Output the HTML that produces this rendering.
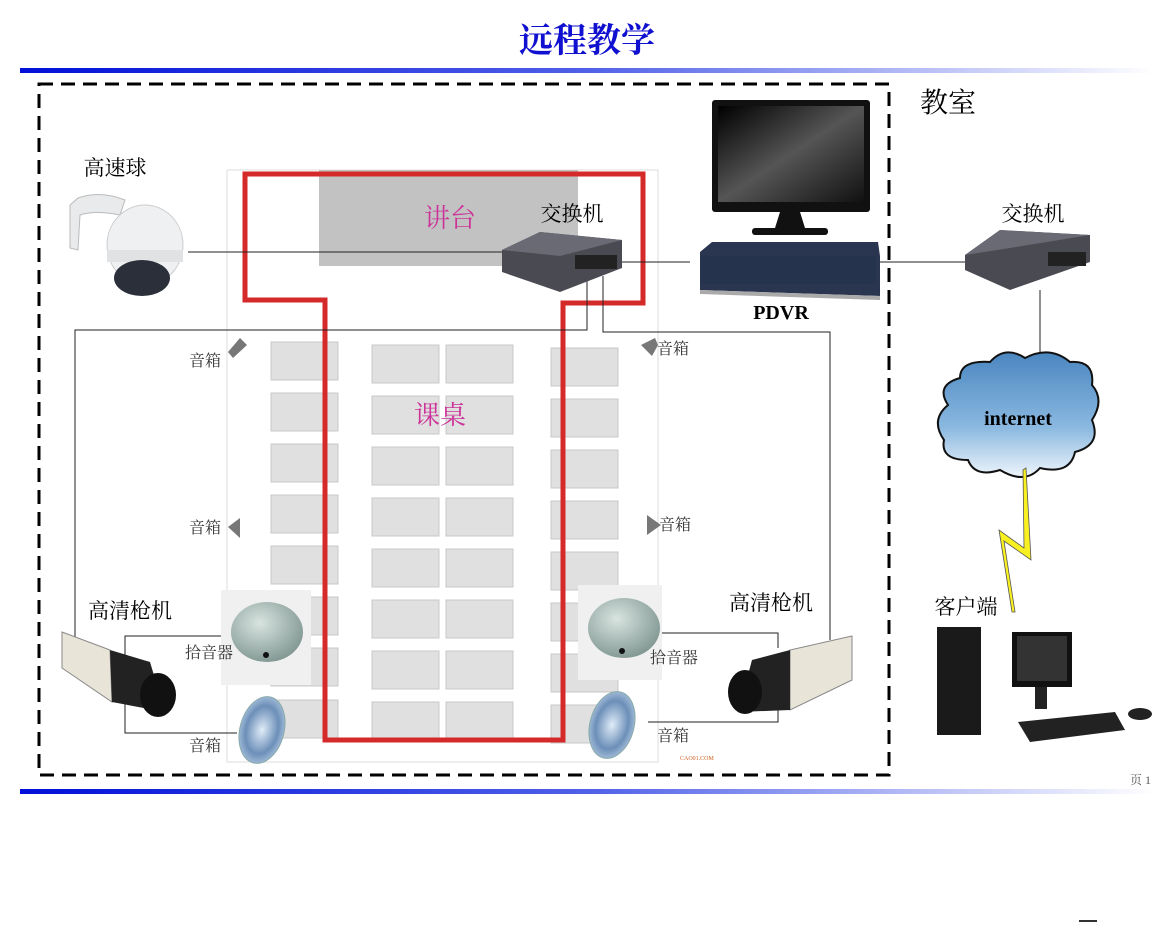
<!DOCTYPE html>
<html><head><meta charset="utf-8"><style>
body{margin:0;background:#fff;}
svg{display:block}
text{font-family:"Liberation Serif","Noto Serif CJK SC",serif;}
</style></head><body>
<svg width="1174" height="926" viewBox="0 0 1174 926" xmlns="http://www.w3.org/2000/svg">
<defs>
<linearGradient id="bar" x1="0" x2="1"><stop offset="0" stop-color="#0010d8"/><stop offset="0.5" stop-color="#5060e8"/><stop offset="1" stop-color="#ffffff"/></linearGradient>
<linearGradient id="cloud" x1="0" y1="0" x2="0" y2="1"><stop offset="0" stop-color="#4a86c0"/><stop offset="0.6" stop-color="#8ab8e0"/><stop offset="1" stop-color="#eef5fb"/></linearGradient>
<linearGradient id="scr" x1="0" y1="0" x2="1" y2="1"><stop offset="0" stop-color="#000"/><stop offset="0.5" stop-color="#555"/><stop offset="1" stop-color="#111"/></linearGradient>
<radialGradient id="dome" cx="0.4" cy="0.35" r="0.7"><stop offset="0" stop-color="#d8e4e0"/><stop offset="1" stop-color="#7f9590"/></radialGradient>
<radialGradient id="spk" cx="0.5" cy="0.5" r="0.6"><stop offset="0" stop-color="#e0ecf8"/><stop offset="0.6" stop-color="#6c8fb8"/><stop offset="1" stop-color="#c0d4ea"/></radialGradient>
</defs>
<text x="587" y="52" font-size="34" fill="#1010d0" text-anchor="middle" font-weight="bold">远程教学</text>
<rect x="20" y="68" width="1135" height="5" fill="url(#bar)"/>
<rect x="20" y="789" width="1135" height="5" fill="url(#bar)"/>
<rect x="39" y="84" width="850" height="691" fill="none" stroke="#000" stroke-width="3" stroke-dasharray="14 8"/>
<text x="948" y="112" font-size="28" text-anchor="middle">教室</text>
<rect x="227" y="170" width="431" height="592" fill="#fff" stroke="#ddd"/>
<rect x="319" y="170" width="259" height="96" fill="#c2c2c2"/>
<g fill="#e0e0e0" stroke="#c8c8c8">
<rect x="271" y="342" width="67" height="38"/><rect x="271" y="393" width="67" height="38"/><rect x="271" y="444" width="67" height="38"/><rect x="271" y="495" width="67" height="38"/><rect x="271" y="546" width="67" height="38"/><rect x="271" y="597" width="67" height="38"/><rect x="271" y="648" width="67" height="38"/><rect x="271" y="700" width="67" height="38"/>
<rect x="372" y="345" width="67" height="38"/><rect x="372" y="396" width="67" height="38"/><rect x="372" y="447" width="67" height="38"/><rect x="372" y="498" width="67" height="38"/><rect x="372" y="549" width="67" height="38"/><rect x="372" y="600" width="67" height="38"/><rect x="372" y="651" width="67" height="38"/><rect x="372" y="702" width="67" height="38"/>
<rect x="446" y="345" width="67" height="38"/><rect x="446" y="396" width="67" height="38"/><rect x="446" y="447" width="67" height="38"/><rect x="446" y="498" width="67" height="38"/><rect x="446" y="549" width="67" height="38"/><rect x="446" y="600" width="67" height="38"/><rect x="446" y="651" width="67" height="38"/><rect x="446" y="702" width="67" height="38"/>
<rect x="551" y="348" width="67" height="38"/><rect x="551" y="399" width="67" height="38"/><rect x="551" y="450" width="67" height="38"/><rect x="551" y="501" width="67" height="38"/><rect x="551" y="552" width="67" height="38"/><rect x="551" y="603" width="67" height="38"/><rect x="551" y="654" width="67" height="38"/><rect x="551" y="705" width="67" height="38"/>
</g>
<path d="M245 174 H643 V303 H563 V740 H325 V300 H245 Z" fill="none" stroke="#d42a2a" stroke-width="5"/>
<text x="450" y="227" font-size="26" fill="#cc3399" text-anchor="middle">讲台</text>
<text x="440" y="424" font-size="26" fill="#cc3399" text-anchor="middle">课桌</text>
<g stroke="#222" stroke-width="1" fill="none">
<path d="M188 252 H502"/><path d="M622 262 H690"/><path d="M880 262 H965"/><path d="M1040 290 V362"/>
<path d="M587 276 V330 H75 V637"/><path d="M603 276 V332 H830 V640"/>
<path d="M230 636 H125 V733 H237"/>
<path d="M660 633 H778 V648"/><path d="M648 722 H778 V705"/>
</g>
<path d="M70 205 L78 198 Q100 190 125 200 L120 215 Q95 210 80 215 L78 250 L70 248 Z" fill="#e8eaec" stroke="#bbb"/>
<ellipse cx="145" cy="245" rx="38" ry="40" fill="#eef0f2" stroke="#ccc"/>
<rect x="107" y="250" width="76" height="12" fill="#e0e2e4"/>
<ellipse cx="142" cy="278" rx="28" ry="18" fill="#2a2f3a"/>
<text x="115" y="175" font-size="21" text-anchor="middle">高速球</text>
<path d="M502 250 L540 232 L622 240 L622 268 L560 292 L502 272 Z" fill="#4a4a52"/>
<path d="M502 250 L540 232 L622 240 L560 256 Z" fill="#6a6a74"/>
<rect x="575" y="255" width="42" height="14" fill="#222"/>
<text x="572" y="221" font-size="21" text-anchor="middle">交换机</text>
<rect x="712" y="100" width="158" height="112" rx="3" fill="#111"/>
<rect x="718" y="106" width="146" height="96" fill="url(#scr)"/>
<path d="M780 212 L800 212 L805 228 L775 228 Z" fill="#111"/>
<rect x="752" y="228" width="76" height="7" rx="3" fill="#111"/>
<path d="M700 252 L712 242 L878 242 L880 256 L880 296 L700 290 Z" fill="#2a3550"/>
<rect x="700" y="256" width="176" height="28" fill="#26334d"/>
<path d="M700 290 L880 296 L880 300 L700 294 Z" fill="#aaa"/>
<text x="781" y="319" font-size="20" font-weight="bold" text-anchor="middle">PDVR</text>
<path d="M965 255 L1000 230 L1090 235 L1090 262 L1010 290 L965 270 Z" fill="#4a4a52"/>
<path d="M965 255 L1000 230 L1090 235 L1010 248 Z" fill="#6a6a74"/>
<rect x="1048" y="252" width="38" height="14" fill="#222"/>
<text x="1033" y="221" font-size="21" text-anchor="middle">交换机</text>
<path d="M948 405 Q935 385 960 378 Q960 360 990 362 Q1005 345 1025 358 Q1050 345 1070 362 Q1095 360 1092 385 Q1105 400 1092 420 Q1102 445 1075 452 Q1070 475 1040 468 Q1025 485 1000 470 Q975 478 968 460 Q940 460 944 440 Q930 420 948 405 Z" fill="url(#cloud)" stroke="#111" stroke-width="2"/>
<text x="1018" y="425" font-size="20" font-weight="bold" text-anchor="middle">internet</text>
<path d="M1026 468 L1031 560 L1004 541 L1015 612 L1012 612 L999 530 L1024 548 L1023 470 Z" fill="#f8f020" stroke="#555" stroke-width="0.8"/>
<text x="966" y="614" font-size="21" text-anchor="middle">客户端</text>
<rect x="937" y="627" width="44" height="108" fill="#1a1a1a"/>
<rect x="1012" y="632" width="60" height="55" fill="#111"/>
<rect x="1017" y="636" width="50" height="45" fill="#333"/>
<rect x="1035" y="687" width="12" height="22" fill="#222"/>
<path d="M1018 722 L1115 712 L1125 730 L1030 742 Z" fill="#222"/>
<ellipse cx="1140" cy="714" rx="12" ry="6" fill="#222"/>
<g fill="#777"><path d="M228 352 L240 338 L247 345 L233 358 Z"/><path d="M655 338 L641 345 L652 356 L658 345 Z"/><path d="M228 527 L240 518 L240 538 Z"/><path d="M647 515 L661 525 L647 535 Z"/></g>
<rect x="221" y="590" width="90" height="95" fill="#f0f0f0"/>
<ellipse cx="267" cy="632" rx="36" ry="30" fill="url(#dome)"/>
<circle cx="266" cy="655" r="3" fill="#111"/>
<rect x="578" y="585" width="84" height="95" fill="#f0f0f0"/>
<ellipse cx="624" cy="628" rx="36" ry="30" fill="url(#dome)"/>
<circle cx="622" cy="651" r="3" fill="#111"/>
<ellipse cx="262" cy="730" rx="22" ry="34" fill="url(#spk)" stroke="#8aa" transform="rotate(15 262 730)"/>
<ellipse cx="612" cy="725" rx="22" ry="34" fill="url(#spk)" stroke="#8aa" transform="rotate(15 612 725)"/>
<g font-size="16" fill="#333">
<text x="189" y="366">音箱</text><text x="657" y="354">音箱</text><text x="189" y="533">音箱</text><text x="659" y="530">音箱</text><text x="189" y="751">音箱</text><text x="657" y="741">音箱</text>
<text x="185" y="658">拾音器</text><text x="650" y="663">拾音器</text>
</g>
<text x="680" y="760" font-size="6" fill="#d06020">CAO01.COM</text>
<path d="M62 632 L110 650 L112 702 L62 668 Z" fill="#e8e4d8" stroke="#888"/>
<path d="M110 650 L150 662 L165 712 L112 702 Z" fill="#222"/>
<ellipse cx="158" cy="695" rx="18" ry="22" fill="#111"/>
<text x="130" y="618" font-size="21" text-anchor="middle">高清枪机</text>
<path d="M852 636 L790 650 L790 710 L852 680 Z" fill="#e8e4d8" stroke="#888"/>
<path d="M790 650 L752 660 L738 712 L790 710 Z" fill="#222"/>
<ellipse cx="745" cy="692" rx="17" ry="22" fill="#111"/>
<text x="771" y="610" font-size="21" text-anchor="middle">高清枪机</text>
<text x="1130" y="784" font-size="12" fill="#555">页 1</text>
<rect x="1079" y="920" width="18" height="2" fill="#333"/>
</svg>
</body></html>
